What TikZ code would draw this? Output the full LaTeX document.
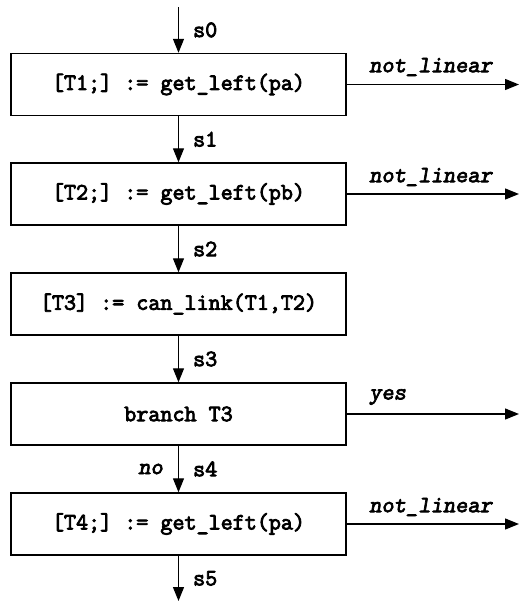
\documentclass[tikz,border=0pt]{standalone}
\usepackage{fontspec}
\newfontfamily\codefont{Latin Modern Mono}[FakeBold=3.5]
\newfontfamily\codeslfont{Latin Modern Mono Slanted}[FakeBold=3]
\usetikzlibrary{arrows.meta}
\begin{document}
\begin{tikzpicture}[x=1pt,y=-1pt,
  font=\fontsize{23.4}{27}\selectfont\codefont,
  stepbox/.style={draw,line width=1.4pt,minimum width=335pt,minimum height=62pt,inner sep=0pt},
  flow/.style={line width=1.3pt,-{Triangle[length=14pt,width=11pt]}},
  slabel/.style={anchor=west,inner sep=0pt,xshift=14pt},
  outlabel/.style={anchor=west,inner sep=0pt,font=\fontsize{23.4}{27}\selectfont\codeslfont}]
\useasboundingbox (0,0) rectangle (519,603);

% the five statement boxes
\node[stepbox] (b1) at (178.5,84.5) {[T1;] := get\_left(pa)};
\node[stepbox] (b2) at (178.5,194) {[T2;] := get\_left(pb)};
\node[stepbox] (b3) at (178.5,304) {[T3] := can\_link(T1,T2)};
\node[stepbox] (b4) at (178.5,414) {branch T3};
\node[stepbox] (b5) at (178.5,524) {[T4;] := get\_left(pa)};

% entry and exit points
\coordinate (in) at (178.5,7);
\coordinate (out) at (178.5,601);
\coordinate (x1) at (519,84.5);
\coordinate (x2) at (519,194);
\coordinate (x4) at (519,414);
\coordinate (x5) at (519,524);

% main flow with state labels
\draw[flow] (in) -- node[slabel] {s0} (b1.north);
\draw[flow] (b1.south) -- node[slabel] {s1} (b2.north);
\draw[flow] (b2.south) -- node[slabel] {s2} (b3.north);
\draw[flow] (b3.south) -- node[slabel] {s3} (b4.north);
\draw[flow] (b4.south) -- node[slabel] {s4}
  node[outlabel,anchor=east,xshift=-15pt] {no} (b5.north);
\draw[flow] (b5.south) -- node[slabel] {s5} (out);

% side exits
\draw[flow] (b1.east) -- (x1);
\node[outlabel] (l1) at (369,67) {not\_linear};
\draw[flow] (b2.east) -- (x2);
\node[outlabel] (l2) at (369,177) {not\_linear};
\draw[flow] (b4.east) -- (x4);
\node[outlabel] (l4) at (369,397) {yes};
\draw[flow] (b5.east) -- (x5);
\node[outlabel] (l5) at (369,507) {not\_linear};
\end{tikzpicture}
\end{document}
